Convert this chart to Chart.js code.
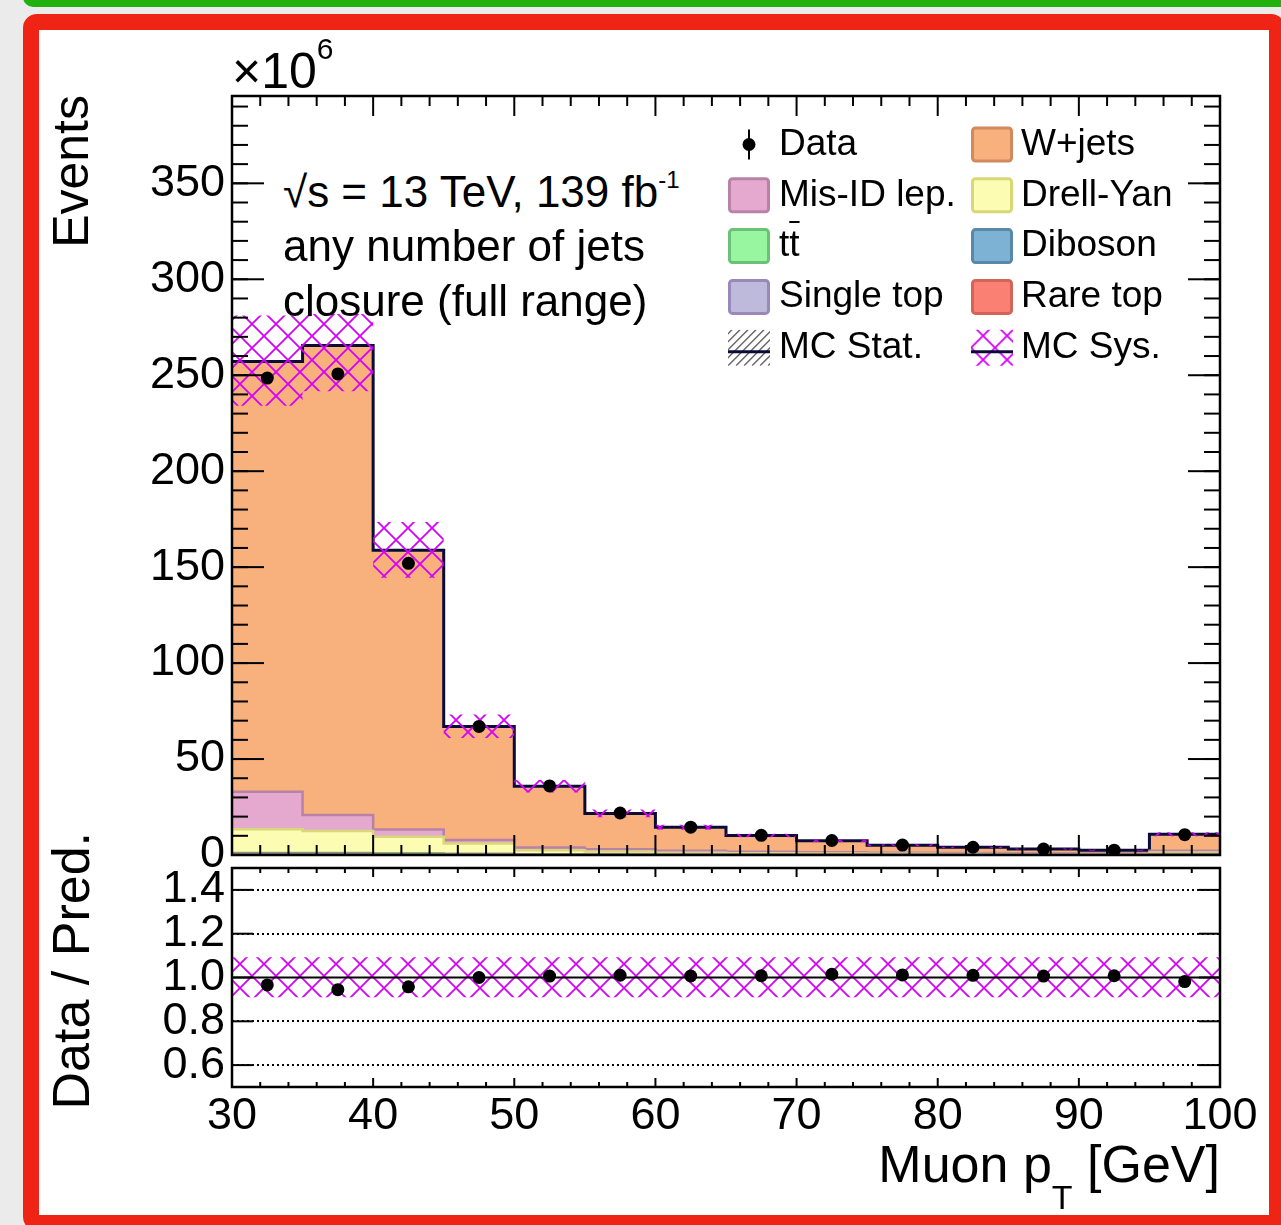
<!DOCTYPE html>
<html lang="en">
<head>
<meta charset="UTF-8">
<title>Muon pT closure</title>
<style>
  html, body { margin: 0; padding: 0; }
  body {
    width: 1281px; height: 1225px; overflow: hidden; position: relative;
    background: #ebebeb;
    font-family: "Liberation Sans", Arial, Helvetica, sans-serif; color: #000;
  }
  .green { position: absolute; left: 23px; top: -10px; width: 1270px; height: 17px; background: #22b00f; border-bottom-left-radius: 10px; }
  .frame {
    position: absolute; left: 23px; top: 14px; width: 1262px; height: 1217px; box-sizing: border-box;
    border: 16px solid #ef2414; border-radius: 14px; background: #fff;
  }
  .chart { position: absolute; left: 0; width: 1281px; z-index: 1; }
  #topBox { top: 0; height: 890px; }
  #ratioBox { top: 820px; height: 405px; }
  .mask { position: absolute; left: 270px; top: 150px; width: 440px; height: 164px; background: #fff; z-index: 2; }
  .txt { position: absolute; white-space: nowrap; line-height: 1; z-index: 3; }
  .vtitle { transform-origin: 0 0; transform: rotate(-90deg); text-align: right; width: 600px; }
  .bar { text-decoration: overline; text-decoration-thickness: 2px; }
</style>
</head>
<body>
<div class="green"></div>
<div class="frame"></div>
<div class="chart" id="topBox"><canvas id="topChart"></canvas></div>
<div class="chart" id="ratioBox"><canvas id="ratioChart"></canvas></div>
<div class="mask"></div>

<div class="txt" style="left:232px; top:46px; font-size:50px;">×10<span style="font-size:30px; position:relative; top:-29px;">6</span></div>
<div class="txt vtitle" style="left:46px; top:695px; font-size:50px;">Events</div>
<div class="txt vtitle" style="left:45px; top:1432px; font-size:52px;">Data / Pred.</div>
<div class="txt" style="left:620px; width:600px; text-align:right; top:1138px; font-size:52px;">Muon p<span style="font-size:34px; position:relative; top:27px;">T</span> [GeV]</div>

<div class="txt" style="left:283px; top:170px; font-size:44px;">√s = 13 TeV, 139 fb<span style="font-size:24px; position:relative; top:-19px;">-1</span></div>
<div class="txt" style="left:283px; top:224px; font-size:44px;">any number of jets</div>
<div class="txt" style="left:283px; top:279px; font-size:44px;">closure (full range)</div>

<script src="https://cdn.jsdelivr.net/npm/chart.js"></script>
<script>
// Muon pT bins [GeV]; event counts in units of 10^6
const binEdges = [30, 35, 40, 45, 50, 55, 60, 65, 70, 75, 80, 85, 90, 95, 100];
const dataEvents = [248.5, 250.7, 152.0, 67.0, 36.0, 21.9, 14.5, 10.23, 7.55, 5.18, 4.03, 3.1, 2.5, 10.6];
const wJets     = [224.2, 244.7, 145.4, 59.2, 31.8, 18.7, 12.2, 8.4, 6.0, 3.9, 3.0, 2.3, 1.7, 8.6];
const misIdLep  = [19.6, 8.3, 3.8, 1.8, 1.5, 1.2, 1.0, 0.8, 0.7, 0.6, 0.5, 0.4, 0.4, 0.9];
const drellYan  = [12.3, 11.4, 8.7, 5.4, 2.1, 1.5, 1.0, 0.8, 0.6, 0.5, 0.4, 0.3, 0.3, 0.8];
const ttbar     = [0.5, 0.5, 0.4, 0.3, 0.2, 0.15, 0.1, 0.08, 0.07, 0.06, 0.05, 0.04, 0.04, 0.3];
const diboson   = [0.2, 0.2, 0.15, 0.1, 0.06, 0.04, 0.03, 0.02, 0.02, 0.02, 0.01, 0.01, 0.01, 0.05];
const singleTop = [0.2, 0.2, 0.15, 0.1, 0.06, 0.04, 0.03, 0.02, 0.02, 0.02, 0.01, 0.01, 0.01, 0.05];
const rareTop   = [0.2, 0.2, 0.15, 0.1, 0.05, 0.05, 0.04, 0.03, 0.03, 0.02, 0.02, 0.02, 0.02, 0.1];
// relative MC systematic uncertainty per bin
const sysUp   = [0.093, 0.093, 0.093, 0.093, 0.093, 0.093, 0.093, 0.093, 0.093, 0.093, 0.093, 0.093, 0.093, 0.093];
const sysDown = [0.090, 0.090, 0.090, 0.090, 0.090, 0.090, 0.090, 0.090, 0.090, 0.090, 0.090, 0.090, 0.090, 0.090];

const xTicks = [30, 40, 50, 60, 70, 80, 90, 100];
const yTicksMain = [0, 50, 100, 150, 200, 250, 300, 350];
const yTicksRatio = [0.6, 0.8, 1.0, 1.2, 1.4];

const NAVY = '#0b0b3a';
const SYS_COLOR = 'rgb(214, 0, 248)';

Chart.defaults.font.family = '"Liberation Sans", Arial, Helvetica, sans-serif';
Chart.defaults.color = '#000';

// stack order, bottom first
const components = [
  { label: 'Rare top',    values: rareTop,   fill: '#f98072', edge: '#d2645a' },
  { label: 'Single top',  values: singleTop, fill: '#bdbadb', edge: '#9a88b8' },
  { label: 'Diboson',     values: diboson,   fill: '#7eb2d4', edge: '#5a88a8' },
  { label: 'tt',          values: ttbar,     fill: '#98f5a0', edge: '#6cc07a' },
  { label: 'Drell-Yan',   values: drellYan,  fill: '#fcfcb2', edge: '#d8d878' },
  { label: 'Mis-ID lep.', values: misIdLep,  fill: '#e5a9cf', edge: '#b882a6' },
  { label: 'W+jets',      values: wJets,     fill: '#f8b07c', edge: '#d08a5c' }
];
const byLabel = Object.fromEntries(components.map(c => [c.label, c]));

const centers = binEdges.slice(0, -1).map((e, i) => (e + binEdges[i + 1]) / 2);
const mcTotal = centers.map((_, i) => components.reduce((s, c) => s + c.values[i], 0));
const ratio = dataEvents.map((v, i) => v / mcTotal[i]);

// histogram as a stepped line: one point per left edge, last value repeated at the right edge
const stepPoints = vals => binEdges.map((x, i) => ({ x, y: vals[Math.min(i, vals.length - 1)] }));

function crossHatch(color, size, width) {
  const c = document.createElement('canvas');
  c.width = c.height = size;
  const g = c.getContext('2d');
  g.strokeStyle = color;
  g.lineWidth = width;
  g.beginPath();
  g.moveTo(0, 0); g.lineTo(size, size);
  g.moveTo(size, 0); g.lineTo(0, size);
  g.stroke();
  return g.createPattern(c, 'repeat');
}
const sysPattern = crossHatch(SYS_COLOR, 24, 1.8);

// ROOT-like frame: inward ticks on all four sides, optional grid lines
const rootFrame = {
  id: 'rootFrame',
  afterDatasetsDraw(chart, args, o) {
    const { ctx, chartArea: a, scales: { x, y } } = chart;
    const line = (x1, y1, x2, y2) => { ctx.beginPath(); ctx.moveTo(x1, y1); ctx.lineTo(x2, y2); ctx.stroke(); };
    ctx.save();
    ctx.strokeStyle = '#000';
    if (o.dotted) {
      ctx.lineWidth = 2;
      ctx.setLineDash([2, 3]);
      o.dotted.forEach(v => { const py = Math.round(y.getPixelForValue(v)); line(a.left, py, a.right, py); });
      ctx.setLineDash([]);
    }
    if (o.unity !== undefined) {
      ctx.lineWidth = 2;
      const py = y.getPixelForValue(o.unity);
      line(a.left, py, a.right, py);
    }
    ctx.lineWidth = 2;
    for (let v = x.min; v <= x.max + 1e-9; v += o.xMinorStep) {
      const len = o.xMajor.some(t => Math.abs(t - v) < 1e-6) ? o.xMajorLen : o.xMinorLen;
      const px = x.getPixelForValue(v);
      line(px, a.bottom, px, a.bottom - len);
      line(px, a.top, px, a.top + len);
    }
    if (o.yMinorStep) {
      for (let v = y.min; v <= y.max + 1e-9; v += o.yMinorStep) {
        const py = y.getPixelForValue(v);
        line(a.left, py, a.left + o.yMinorLen, py);
        line(a.right, py, a.right - o.yMinorLen, py);
      }
    }
    o.yMajor.forEach(v => {
      const py = y.getPixelForValue(v);
      line(a.left, py, a.left + o.yMajorLen, py);
      line(a.right, py, a.right - o.yMajorLen, py);
    });
    ctx.lineWidth = 2.5;
    ctx.strokeRect(a.left, a.top, a.right - a.left, a.bottom - a.top);
    ctx.restore();
  }
};

// two-column legend: symbols on the canvas, labels as page text
const legendEntries = [
  { label: 'Data', kind: 'data' },
  { label: 'W+jets', kind: 'box', comp: 'W+jets' },
  { label: 'Mis-ID lep.', kind: 'box', comp: 'Mis-ID lep.' },
  { label: 'Drell-Yan', kind: 'box', comp: 'Drell-Yan' },
  { label: 't<span class="bar">t</span>', kind: 'box', comp: 'tt' },
  { label: 'Diboson', kind: 'box', comp: 'Diboson' },
  { label: 'Single top', kind: 'box', comp: 'Single top' },
  { label: 'Rare top', kind: 'box', comp: 'Rare top' },
  { label: 'MC Stat.', kind: 'stat' },
  { label: 'MC Sys.', kind: 'sys' }
];
const legendSymX = [749, 992];
const legendTextX = [779, 1021];
const legendRowY = r => 144.5 + r * 50.8;

legendEntries.forEach((e, i) => {
  const div = document.createElement('div');
  div.className = 'txt';
  div.style.left = legendTextX[i % 2] + 'px';
  div.style.top = (legendRowY(Math.floor(i / 2)) + 10.5 - 31.3) + 'px';
  div.style.fontSize = '37px';
  div.innerHTML = e.label;
  document.body.appendChild(div);
});

const legendSymbols = {
  id: 'legendSymbols',
  afterDraw(chart) {
    const ctx = chart.ctx;
    ctx.save();
    legendEntries.forEach((e, i) => {
      const cx = legendSymX[i % 2], cy = legendRowY(Math.floor(i / 2));
      const l = cx - 21, r = cx + 21, t = cy - 18, b = cy + 18;
      if (e.kind === 'data') {
        ctx.strokeStyle = '#000'; ctx.lineWidth = 2;
        ctx.beginPath(); ctx.moveTo(cx, cy - 15); ctx.lineTo(cx, cy + 15); ctx.stroke();
        ctx.fillStyle = '#000';
        ctx.beginPath(); ctx.arc(cx, cy, 6.5, 0, Math.PI * 2); ctx.fill();
      } else if (e.kind === 'box') {
        const c = byLabel[e.comp];
        ctx.fillStyle = c.fill; ctx.strokeStyle = c.edge; ctx.lineWidth = 3;
        ctx.beginPath(); ctx.roundRect(l + 1.5, t + 1.5, r - l - 3, b - t - 3, 3); ctx.fill(); ctx.stroke();
      } else {
        ctx.save();
        ctx.beginPath(); ctx.rect(l, t, r - l, b - t); ctx.clip();
        if (e.kind === 'stat') {
          ctx.strokeStyle = '#666'; ctx.lineWidth = 1.5;
          for (let k = -40; k < 60; k += 8) { ctx.beginPath(); ctx.moveTo(l + k, b); ctx.lineTo(l + k + 36, t); ctx.stroke(); }
        } else {
          ctx.fillStyle = sysPattern;
          ctx.translate(l, t - 6);
          ctx.fillRect(0, 0, r - l, b - t + 12);
        }
        ctx.restore();
        ctx.strokeStyle = NAVY; ctx.lineWidth = 3;
        ctx.beginPath(); ctx.moveTo(l, cy + 4); ctx.lineTo(r, cy + 4); ctx.stroke();
      }
    });
    ctx.restore();
  }
};

const bandHi = mcTotal.map((v, i) => v * (1 + sysUp[i]));
const bandLo = mcTotal.map((v, i) => v * (1 - sysDown[i]));
const last = components.length - 1;

new Chart(document.getElementById('topChart'), {
  type: 'line',
  data: {
    datasets: [
      { type: 'scatter', label: 'Data', data: centers.map((x, i) => ({ x, y: dataEvents[i] })), stack: 'data',
        pointRadius: 6.5, pointBackgroundColor: '#000', pointBorderWidth: 0, showLine: false, order: 0 },
      { label: 'sys lo', data: stepPoints(bandLo), stack: 'lo', stepped: true, fill: false,
        borderWidth: 0, borderColor: 'transparent', pointRadius: 0, order: 1 },
      { label: 'MC Sys.', data: stepPoints(bandHi), stack: 'hi', stepped: true, fill: '-1',
        backgroundColor: sysPattern, borderWidth: 0, borderColor: 'transparent', pointRadius: 0, order: 1 },
      // same order for all so the stack keeps the dataset sequence
      ...components.map((c, k) => ({
        label: c.label, data: stepPoints(c.values), stack: 'mc', stepped: true,
        fill: k === 0 ? 'origin' : '-1', backgroundColor: c.fill,
        borderColor: k === last ? NAVY : c.edge,
        borderWidth: k === last ? 3 : 2.5,
        pointRadius: 0, order: 2
      }))
    ]
  },
  options: {
    responsive: true, maintainAspectRatio: false, animation: false, events: [],
    layout: { padding: { top: 96, right: 61, bottom: 35, left: 0 } },
    scales: {
      x: { type: 'linear', min: 30, max: 100, display: false },
      y: {
        type: 'linear', stacked: true, min: 0, max: 395.5,
        grid: { display: false, drawTicks: false }, border: { display: false },
        afterBuildTicks: s => { s.ticks = yTicksMain.map(value => ({ value })); },
        afterFit: s => { s.width = 232; },
        ticks: { font: { size: 45 }, padding: 7, color: '#000', autoSkip: false, callback: v => String(v) }
      }
    },
    plugins: {
      legend: { display: false }, tooltip: { enabled: false },
      rootFrame: { xMajor: xTicks, xMinorStep: 2, xMajorLen: 20, xMinorLen: 10,
                   yMajor: yTicksMain, yMinorStep: 10, yMajorLen: 32, yMinorLen: 16 }
    }
  },
  plugins: [rootFrame, legendSymbols]
});

new Chart(document.getElementById('ratioChart'), {
  type: 'line',
  data: {
    datasets: [
      { type: 'scatter', label: 'Data / Pred.', data: centers.map((x, i) => ({ x, y: ratio[i] })),
        pointRadius: 6.5, pointBackgroundColor: '#000', pointBorderWidth: 0, showLine: false, order: 0 },
      { label: 'sys lo', data: stepPoints(sysDown.map(s => 1 - s)), stepped: true, fill: false,
        borderWidth: 0, borderColor: 'transparent', pointRadius: 0, order: 1 },
      { label: 'MC Sys.', data: stepPoints(sysUp.map(s => 1 + s)), stepped: true, fill: '-1',
        backgroundColor: sysPattern, borderWidth: 0, borderColor: 'transparent', pointRadius: 0, order: 1 }
    ]
  },
  options: {
    responsive: true, maintainAspectRatio: false, animation: false, events: [],
    layout: { padding: { top: 48, right: 61, bottom: 0, left: 0 } },
    scales: {
      x: {
        type: 'linear', min: 30, max: 100,
        grid: { display: false, drawTicks: false }, border: { display: false },
        afterBuildTicks: s => { s.ticks = xTicks.map(value => ({ value })); },
        afterFit: s => { s.height = 138; },
        ticks: { font: { size: 45 }, padding: 3, color: '#000', maxRotation: 0, autoSkip: false, callback: v => String(v) }
      },
      y: {
        type: 'linear', min: 0.5, max: 1.5,
        grid: { display: false, drawTicks: false }, border: { display: false },
        afterBuildTicks: s => { s.ticks = yTicksRatio.map(value => ({ value })); },
        afterFit: s => { s.width = 232; },
        ticks: { font: { size: 45 }, padding: 7, color: '#000', autoSkip: false, callback: v => v.toFixed(1) }
      }
    },
    plugins: {
      legend: { display: false }, tooltip: { enabled: false },
      rootFrame: { xMajor: xTicks, xMinorStep: 2, xMajorLen: 9, xMinorLen: 5,
                   yMajor: yTicksRatio, yMajorLen: 21, dotted: [0.6, 0.8, 1.2, 1.4], unity: 1.0 }
    }
  },
  plugins: [rootFrame]
});
</script>
</body>
</html>
